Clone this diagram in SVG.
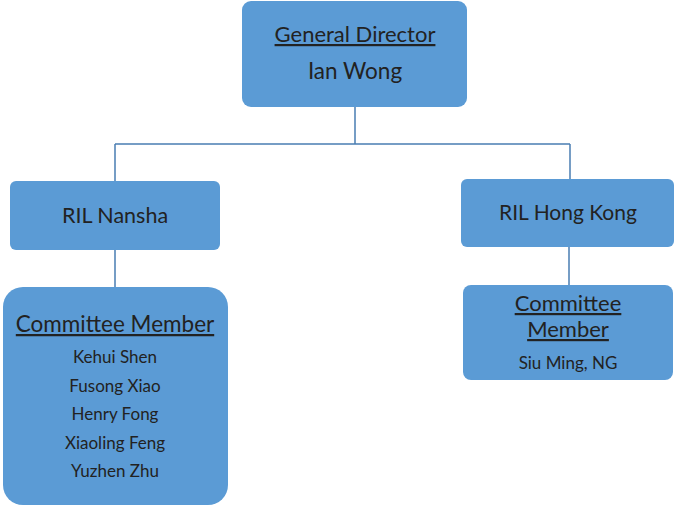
<svg xmlns="http://www.w3.org/2000/svg" width="675" height="507" viewBox="0 0 675 507">
<style>
.box{fill:#5B9BD5;}
.t{font-family:Lato,"Open Sans","Liberation Sans",sans-serif;fill:#222222;text-anchor:middle;}
.u{text-decoration:underline;}
.line{stroke:#4A7EB2;stroke-width:1.5;fill:none;}
</style>
<rect width="675" height="507" fill="#ffffff"/>
<g id="connectors">
<path class="line" d="M355,107 V144 M115,144 H570 M115,144 V181 M570,144 V179 M115,250 V287 M569,247 V285"/>
</g>
<g id="general-director">
<rect class="box" x="242" y="1" width="225" height="106" rx="9"/>
<text class="t u" x="355" y="42" font-size="22">General Director</text>
<text class="t" x="355" y="79" font-size="22.5">Ian Wong</text>
</g>
<g id="ril-nansha">
<rect class="box" x="10" y="181" width="210" height="69" rx="6"/>
<text class="t" x="115" y="223" font-size="21.5">RIL Nansha</text>
</g>
<g id="ril-hong-kong">
<rect class="box" x="461" y="179" width="213" height="68" rx="6"/>
<text class="t" x="568" y="220" font-size="21">RIL Hong Kong</text>
</g>
<g id="committee-nansha">
<rect class="box" x="3" y="287" width="225" height="218" rx="20"/>
<text class="t u" x="115" y="332" font-size="22.5">Committee Member</text>
<text class="t" x="115" y="363" font-size="17">Kehui Shen</text>
<text class="t" x="115" y="392" font-size="17">Fusong Xiao</text>
<text class="t" x="115" y="420" font-size="17">Henry Fong</text>
<text class="t" x="115" y="449" font-size="17">Xiaoling Feng</text>
<text class="t" x="115" y="477" font-size="17">Yuzhen Zhu</text>
</g>
<g id="committee-hong-kong">
<rect class="box" x="463" y="285" width="210" height="95" rx="8"/>
<text class="t u" x="568" y="311" font-size="22">Committee</text>
<text class="t u" x="568" y="337" font-size="22">Member</text>
<text class="t" x="568" y="369" font-size="17">Siu Ming, NG</text>
</g>
</svg>
